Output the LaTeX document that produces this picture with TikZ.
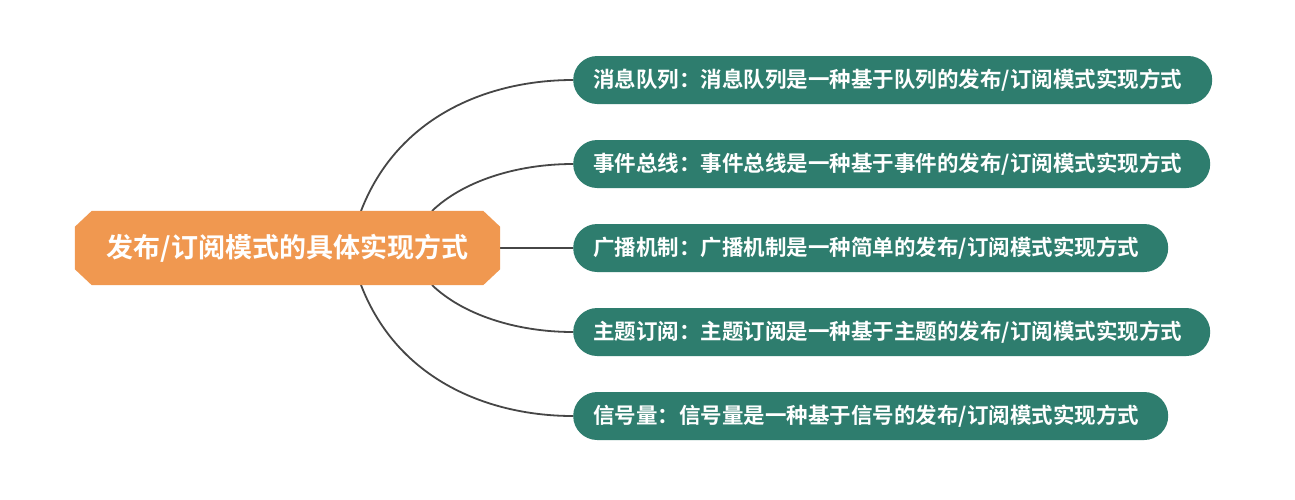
\documentclass[tikz,border=0pt]{standalone}
\usepackage{fontspec}
\newfontfamily\cjk{Noto Sans CJK SC Bold}
\usetikzlibrary{calc,backgrounds}
\definecolor{rootorange}{RGB}{240,152,80}
\definecolor{leafteal}{RGB}{46,125,110}
\definecolor{linkgray}{RGB}{70,70,70}
\tikzset{
  rootbox/.style={shape=rectangle, draw=none, text=white, minimum width=425pt, minimum height=74pt, inner sep=0pt,
    font=\cjk\fontsize{27pt}{32pt}\selectfont},
  leafbox/.style={shape=rectangle, rounded corners=24pt, fill=leafteal, draw=none, text=white,
    minimum height=48pt, inner xsep=20pt, inner ysep=0pt, anchor=west, align=left,
    font=\cjk\fontsize{21.5pt}{25pt}\selectfont},
  link/.style={draw=linkgray, line width=1.8pt}
}
\begin{document}
\begin{tikzpicture}[x=1pt,y=-1pt]
\useasboundingbox (0,0) rectangle (1295,499);
\node[rootbox] (root) at (287.5,248) {发布/订阅模式的具体实现方式};
\node[leafbox, text width=599pt] (c1) at (573,80) {消息队列：消息队列是一种基于队列的发布/订阅模式实现方式};
\node[leafbox, text width=597pt] (c2) at (573,164) {事件总线：事件总线是一种基于事件的发布/订阅模式实现方式};
\node[leafbox, text width=555pt] (c3) at (573,248) {广播机制：广播机制是一种简单的发布/订阅模式实现方式};
\node[leafbox, text width=597pt] (c4) at (573,332) {主题订阅：主题订阅是一种基于主题的发布/订阅模式实现方式};
\node[leafbox, text width=555pt] (c5) at (573,416) {信号量：信号量是一种基于信号的发布/订阅模式实现方式};
\coordinate (s1) at (361,211);
\coordinate (s2) at (432,211);
\coordinate (s4) at (432,285);
\coordinate (s5) at (361,285);
\begin{scope}[on background layer]
\fill[white] (0,0) rectangle (1295,499);
\draw[link] (s1) .. controls (398,115) and (490,80) .. (c1.west);
\draw[link] (s2) .. controls (462,182) and (515,164) .. (c2.west);
\draw[link] (root.east) -- (c3.west);
\draw[link] (s4) .. controls (462,314) and (515,332) .. (c4.west);
\draw[link] (s5) .. controls (398,381) and (490,416) .. (c5.west);
\fill[rootorange] ($(root.north west)+(17,0)$) -- ($(root.north east)+(-17,0)$) -- ($(root.north east)+(0,16)$)
  -- ($(root.south east)+(0,-16)$) -- ($(root.south east)+(-17,0)$) -- ($(root.south west)+(17,0)$)
  -- ($(root.south west)+(0,-16)$) -- ($(root.north west)+(0,16)$) -- cycle;
\end{scope}
\end{tikzpicture}
\end{document}
